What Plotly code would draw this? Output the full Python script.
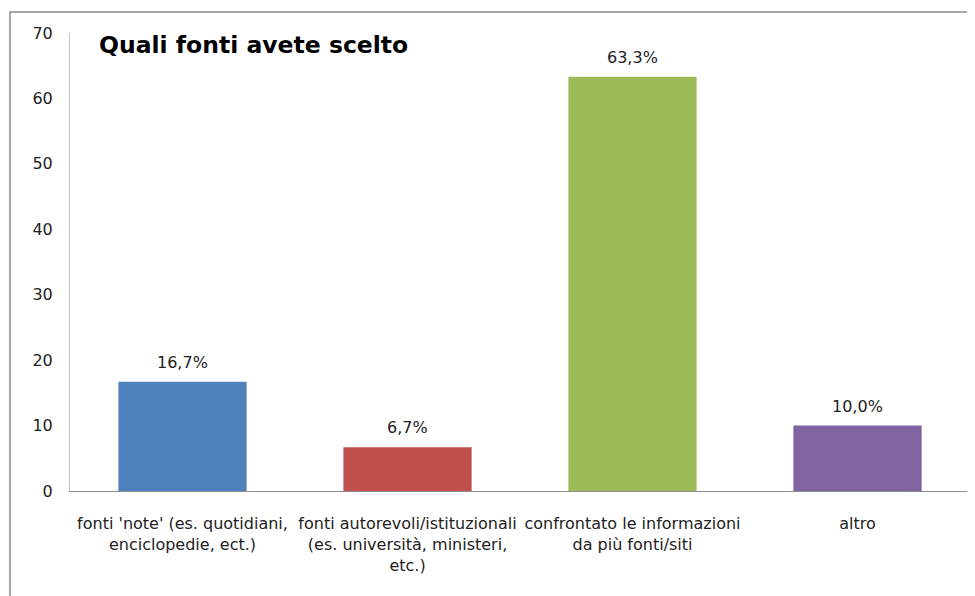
import plotly.graph_objects as go

categories = [
    "fonti 'note' (es. quotidiani,<br>enciclopedie, ect.)",
    "fonti autorevoli/istituzionali<br>(es. università, ministeri,<br>etc.)",
    "confrontato le informazioni<br>da più fonti/siti",
    "altro",
]
values = [16.7, 6.7, 63.3, 10.0]
labels = ["16,7%", "6,7%", "63,3%", "10,0%"]
colors = ["#4F81BD", "#C0504D", "#9BBB59", "#8064A2"]
y_ticks = [0, 10, 20, 30, 40, 50, 60, 70]

FONT = "DejaVu Sans"

# the page body has an 8px margin; work in page pixels and shift
OFF = 8
W, H = 975 - OFF, 596 - OFF
L, T = 70 - OFF, 33 - OFF
R = W - (970 - OFF)
B = H - (491 - OFF)
pw, ph = W - L - R, H - T - B


def px(x):
    return (x - OFF - L) / pw


def py(y):
    return (H - B - (y - OFF)) / ph


fig = go.Figure(
    go.Bar(
        x=categories,
        y=values,
        marker=dict(color=colors, line=dict(width=0)),
        hoverinfo="skip",
    )
)

annotations = [
    dict(
        x=c,
        y=v,
        xref="x",
        yref="y",
        text=t,
        showarrow=False,
        yanchor="bottom",
        yshift=8,
        font=dict(family=FONT, size=16, color="#222"),
    )
    for c, v, t in zip(categories, values, labels)
]
annotations.append(
    dict(
        text="<b>Quali fonti avete scelto</b>",
        xref="paper",
        yref="paper",
        x=px(97),
        y=py(45),
        xanchor="left",
        yanchor="middle",
        showarrow=False,
        font=dict(family=FONT, size=23.5, color="black"),
    )
)

fig.update_layout(
    width=W,
    height=H,
    margin=dict(l=L, r=R, t=T, b=B, autoexpand=False),
    paper_bgcolor="white",
    plot_bgcolor="white",
    bargap=0.43,
    showlegend=False,
    font=dict(family=FONT, size=16, color="#222"),
    xaxis=dict(
        showgrid=False,
        showline=True,
        linecolor="#8c8c8c",
        linewidth=1,
        ticks="",
        tickangle=0,
        automargin=False,
        tickfont=dict(family=FONT, size=16, color="#222"),
        ticklabelstandoff=18,
        fixedrange=True,
    ),
    yaxis=dict(
        range=[0, 70],
        tickvals=y_ticks,
        showgrid=False,
        zeroline=False,
        showline=True,
        linecolor="#c0c0c0",
        linewidth=1,
        ticks="",
        automargin=False,
        tickfont=dict(family=FONT, size=16, color="#222"),
        ticklabelstandoff=13,
        fixedrange=True,
    ),
    annotations=annotations,
    shapes=[
        dict(
            type="rect",
            xref="paper",
            yref="paper",
            x0=px(10),
            y0=py(640),
            x1=px(1010),
            y1=py(12),
            line=dict(color="#8a8a8a", width=1.5),
            fillcolor="rgba(0,0,0,0)",
            layer="below",
        )
    ],
)

fig.write_html("out.html")
